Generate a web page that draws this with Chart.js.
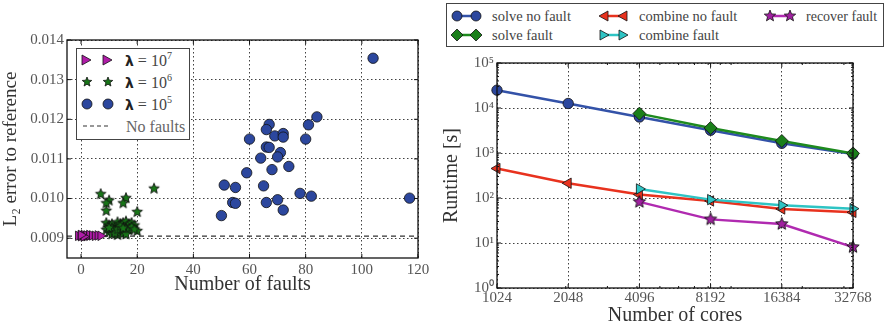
<!DOCTYPE html>
<html><head><meta charset="utf-8">
<script src="https://cdn.jsdelivr.net/npm/chart.js@4"></script>
<style>
html,body{margin:0;padding:0;background:#fff;}
body{width:885px;height:332px;position:relative;overflow:hidden;font-family:"Liberation Serif","DejaVu Serif",serif;}
.cw{position:absolute;top:0;height:332px;}
.leg{position:absolute;border:1.5px solid #444;background:#fff;box-sizing:border-box;}
.item{position:absolute;white-space:nowrap;color:#444;font-family:"Liberation Serif","DejaVu Serif",serif;font-size:14px;line-height:14px;}
.item svg{position:absolute;overflow:visible;}
.lam{font-family:"DejaVu Sans",sans-serif;font-weight:bold;color:#222;font-size:14px;}
sup{font-size:10px;line-height:0;position:relative;top:-1px;}
</style></head>
<body>
<div class="cw" style="left:0;width:440px;"><canvas id="c1" width="440" height="332"></canvas></div>
<div class="cw" style="left:440px;width:445px;"><canvas id="c2" width="445" height="332"></canvas></div>

<div class="leg" style="left:76px;top:48px;width:114px;height:92px;">
  <div class="item" style="left:0;top:0;width:110px;height:88px;">
    <svg width="110" height="88">
      <polygon points="5,6 14,11 5,16" fill="#b01ca8" stroke="#111" stroke-width="0.8"/>
      <polygon points="26,6 35,11 26,16" fill="#b01ca8" stroke="#111" stroke-width="0.8"/>
      <polygon id="s1" points="" fill="#187518" stroke="#111" stroke-width="0.8"/>
      <polygon id="s2" points="" fill="#187518" stroke="#111" stroke-width="0.8"/>
      <circle cx="10" cy="55" r="5" fill="#2c479e" stroke="#111" stroke-width="0.8"/>
      <circle cx="31" cy="55" r="5" fill="#2c479e" stroke="#111" stroke-width="0.8"/>
      <line x1="6" y1="77" x2="33" y2="77" stroke="#333" stroke-width="1.2" stroke-dasharray="4,3"/>
    </svg>
  </div>
  <div class="item" style="left:48px;top:4px;font-size:16px;line-height:16px;"><span class="lam">λ</span> = 10<sup>7</sup></div>
  <div class="item" style="left:48px;top:26px;font-size:16px;line-height:16px;"><span class="lam">λ</span> = 10<sup>6</sup></div>
  <div class="item" style="left:48px;top:48px;font-size:16px;line-height:16px;"><span class="lam">λ</span> = 10<sup>5</sup></div>
  <div class="item" style="left:49px;top:70px;color:#666;font-size:16px;line-height:16px;">No faults</div>
</div>

<div class="leg" style="left:446px;top:3px;width:438px;height:44px;">
  <svg width="438" height="44" style="position:absolute;left:0;top:0;overflow:visible">
    <g stroke="#111" stroke-width="0.8">
      <line x1="10" y1="12" x2="29" y2="12" stroke="#3352a8" stroke-width="2.5"/>
      <circle cx="10" cy="12" r="5" fill="#2c479e"/><circle cx="29" cy="12" r="5" fill="#2c479e"/>
      <line x1="10" y1="31" x2="29" y2="31" stroke="#1e8a1e" stroke-width="2.5"/>
      <polygon points="10,25 16,31 10,37 4,31" fill="#1a7f1a"/><polygon points="29,25 35,31 29,37 23,31" fill="#1a7f1a"/>
      <line x1="157" y1="12" x2="176" y2="12" stroke="#e8321e" stroke-width="2.5"/>
      <polygon points="152,12 161,7 161,17" fill="#e8321e"/><polygon points="171,12 180,7 180,17" fill="#e8321e"/>
      <line x1="157" y1="31" x2="176" y2="31" stroke="#2ec4c4" stroke-width="2.5"/>
      <polygon points="162,31 153,26 153,36" fill="#2ec4c4"/><polygon points="181,31 172,26 172,36" fill="#2ec4c4"/>
      <line x1="323" y1="12" x2="343" y2="12" stroke="#b02ab0" stroke-width="2.5"/>
      <polygon id="s3" points="" fill="#a020a0"/><polygon id="s4" points="" fill="#a020a0"/>
    </g>
  </svg>
  <div class="item" style="left:45px;top:5px;font-size:14.5px;line-height:15px;">solve no fault</div>
  <div class="item" style="left:45px;top:24px;font-size:14.5px;line-height:15px;">solve fault</div>
  <div class="item" style="left:192px;top:5px;font-size:14.5px;line-height:15px;">combine no fault</div>
  <div class="item" style="left:192px;top:24px;font-size:14.5px;line-height:15px;">combine fault</div>
  <div class="item" style="left:359px;top:5px;font-size:14px;line-height:15px;">recover fault</div>
</div>

<script>
// ---------- Left panel data ----------
const lam5Faults = [104,117,84,81,80,67,66,60,69,72,72,66,67,71,70,64,74,68,59,65,51,55,78,82,70,54,55,66,72,50];
const lam5Error  = [0.01354,0.01001,0.01206,0.01186,0.01150,0.01187,0.01174,0.01150,0.01158,0.01164,0.01155,0.01130,0.01129,0.01116,0.01105,0.01102,0.01081,0.01073,0.01065,0.01032,0.01034,0.01028,0.01013,0.01006,0.00997,0.00990,0.00988,0.00990,0.00971,0.00957];
const lam6Faults = [7,26,10,9,9,16,15,20,9,10,11,12,13,14,15,16,17,18,19,9,10,11,12,13,14,15,16,17,18,20,11,12,13,14,16,10,19,15];
const lam6Error  = [0.01011,0.01025,0.00995,0.00988,0.00969,0.01001,0.00988,0.00966,0.00938,0.00932,0.00935,0.00928,0.00940,0.00936,0.00938,0.00942,0.00935,0.00938,0.00932,0.00921,0.00915,0.00910,0.00918,0.00908,0.00915,0.00912,0.00925,0.00920,0.00928,0.00918,0.00925,0.00912,0.00922,0.00930,0.00910,0.00926,0.00922,0.00925];
const lam7Faults = [-1,0,0,1,1,2,2,3,3,4,5,6,7,1,0];
const lam7Error  = [0.00906,0.00907,0.00905,0.00906,0.00908,0.00905,0.00907,0.00906,0.00908,0.00907,0.00906,0.00907,0.00906,0.00904,0.00908];
const noFaultX = [-5,120];
const noFaultError = [0.00905,0.00905];
const leftXTicks = [0,20,40,60,80,100,120];
const leftYTicks = [0.009,0.010,0.011,0.012,0.013,0.014];

// ---------- Right panel data ----------
const cores = [1024,2048,4096,8192,16384,32768];
const solveNoFault   = [24900,12600,6300,3200,1640,946];
const solveFault     = [null,null,7500,3600,1850,980];
const combineNoFault = [453,213,119,86,57,48];
const combineFault   = [null,null,159,92,69,58];
const recoverFault   = [null,null,82,33.5,26.4,8.1];
const rightYTicks = [1,10,100,1000,10000,100000];

// ---------- helpers ----------
function starPts(cx,cy,R,r){const p=[];for(let i=0;i<10;i++){const a=-Math.PI/2+i*Math.PI/5;const rr=i%2?r:R;p.push((cx+rr*Math.cos(a)).toFixed(2)+','+(cy+rr*Math.sin(a)).toFixed(2));}return p.join(' ');}
document.getElementById('s1').setAttribute('points',starPts(10,33,5,2.2));
document.getElementById('s2').setAttribute('points',starPts(31,33,5,2.2));
document.getElementById('s3').setAttribute('points',starPts(323,12,6,2.6));
document.getElementById('s4').setAttribute('points',starPts(343,12,6,2.6));

function starImg(R,fill){
  const s=Math.ceil(2*R+3);const c=document.createElement('canvas');c.width=s;c.height=s;
  const g=c.getContext('2d');g.beginPath();
  for(let i=0;i<10;i++){const a=-Math.PI/2+i*Math.PI/5;const rr=i%2?R*0.44:R;const x=s/2+rr*Math.cos(a),y=s/2+rr*Math.sin(a);i?g.lineTo(x,y):g.moveTo(x,y);}
  g.closePath();g.fillStyle=fill;g.fill();g.lineWidth=0.9;g.strokeStyle='#111';g.stroke();return c;
}
const zip=(xs,ys)=>xs.map((x,i)=>({x:x,y:ys[i]})).filter(p=>p.y!=null);

const FONT='Liberation Serif';
const gridCfg={color:'rgba(0,0,0,0.75)',lineWidth:1,tickLength:0,drawTicks:false};
const borderCfg={display:false,dash:[1.5,2.5]};

const frame={
  id:'frame',
  afterDatasetsDraw(chart,args,opts){
    const a=chart.chartArea,g=chart.ctx;g.save();
    g.strokeStyle='#111';g.lineWidth=1.3;g.strokeRect(a.left,a.top,a.right-a.left,a.bottom-a.top);
    const xs=chart.scales.x,ys=chart.scales.y;
    g.lineWidth=1;
    xs.ticks.forEach(t=>{const px=xs.getPixelForValue(t.value);g.beginPath();g.moveTo(px,a.bottom);g.lineTo(px,a.bottom-4);g.moveTo(px,a.top);g.lineTo(px,a.top+4);g.stroke();});
    ys.ticks.forEach(t=>{const py=ys.getPixelForValue(t.value);g.beginPath();g.moveTo(a.left,py);g.lineTo(a.left+4,py);g.moveTo(a.right,py);g.lineTo(a.right-4,py);g.stroke();});
    if(opts.logMinor){
      for(let d=1;d<100000;d*=10){for(let k=2;k<10;k++){const py=ys.getPixelForValue(d*k);g.beginPath();g.moveTo(a.left,py);g.lineTo(a.left+2,py);g.moveTo(a.right,py);g.lineTo(a.right-2,py);g.stroke();}}
      for(let d=1000;d<=10000;d*=10){for(let k=1;k<10;k++){const v=d*k;if(v<=1024||v>=32768)continue;const px=xs.getPixelForValue(v);g.beginPath();g.moveTo(px,a.bottom);g.lineTo(px,a.bottom-2);g.moveTo(px,a.top);g.lineTo(px,a.top+2);g.stroke();}}
    }
    g.restore();
  }
};

// ---------- Left chart ----------
new Chart(document.getElementById('c1'),{
  type:'scatter',
  data:{datasets:[
    {label:'No faults',type:'line',data:zip(noFaultX,noFaultError),borderColor:'#333',borderWidth:1.2,borderDash:[5,4],pointRadius:0,order:4},
    {label:'λ = 10^5',data:zip(lam5Faults,lam5Error),pointStyle:'circle',pointRadius:5.2,backgroundColor:'#2c479e',borderColor:'#111',borderWidth:0.8,order:3,clip:false},
    {label:'λ = 10^6',data:zip(lam6Faults,lam6Error),pointStyle:starImg(5.5,'#187518'),order:2,clip:false},
    {label:'λ = 10^7',data:zip(lam7Faults,lam7Error),pointStyle:'triangle',rotation:90,pointRadius:5.5,backgroundColor:'#b01ca8',borderColor:'#111',borderWidth:0.8,order:1,clip:false}
  ]},
  options:{
    responsive:false,animation:false,
    layout:{padding:{left:0,top:40,right:22,bottom:35}},
    plugins:{legend:{display:false},tooltip:{enabled:false},frame:{}},
    scales:{
      x:{type:'linear',min:-5,max:120,
        afterBuildTicks:s=>{s.ticks=leftXTicks.map(v=>({value:v}));},
        afterFit:s=>{s.height=39;},
        grid:{...gridCfg},border:{...borderCfg},
        ticks:{font:{family:FONT,size:15},color:'#555',padding:3,maxRotation:0,callback:v=>String(v)},
        title:{display:true,text:'Number of faults',font:{family:FONT,size:20},color:'#333',padding:{top:0,bottom:0}}
      },
      y:{type:'linear',min:0.0085,max:0.014,
        afterBuildTicks:s=>{s.ticks=leftYTicks.map(v=>({value:v}));},
        afterFit:s=>{s.width=67;},
        grid:{...gridCfg},border:{...borderCfg},
        ticks:{font:{family:FONT,size:15},color:'#555',padding:3,callback:v=>v.toFixed(3)},
        title:{display:true,text:'L₂ error to reference',font:{family:FONT,size:19},color:'#333',padding:{top:0,bottom:2}}
      }
    }
  },
  plugins:[frame]
});

// ---------- Right chart ----------
const sup={0:'⁰',1:'¹',2:'²',3:'³',4:'⁴',5:'⁵'};
new Chart(document.getElementById('c2'),{
  type:'line',
  data:{datasets:[
    {label:'solve no fault',data:zip(cores,solveNoFault),borderColor:'#3352a8',backgroundColor:'#2c479e',pointStyle:'circle',pointRadius:5.2,order:5},
    {label:'solve fault',data:zip(cores,solveFault),borderColor:'#1e8a1e',backgroundColor:'#1a7f1a',pointStyle:'rectRot',pointRadius:6.5,order:4},
    {label:'combine no fault',data:zip(cores,combineNoFault),borderColor:'#e8321e',backgroundColor:'#e8321e',pointStyle:'triangle',rotation:-90,pointRadius:6,order:3},
    {label:'combine fault',data:zip(cores,combineFault),borderColor:'#2ec4c4',backgroundColor:'#2ec4c4',pointStyle:'triangle',rotation:90,pointRadius:6,order:2},
    {label:'recover fault',data:zip(cores,recoverFault),borderColor:'#b02ab0',backgroundColor:'#a020a0',pointStyle:starImg(6.5,'#a020a0'),order:1}
  ].map(d=>Object.assign({borderWidth:2.5,pointBorderColor:'#111',pointBorderWidth:0.8,clip:false,tension:0},d))},
  options:{
    responsive:false,animation:false,
    layout:{padding:{left:0,top:63,right:32,bottom:0}},
    plugins:{legend:{display:false},tooltip:{enabled:false},frame:{logMinor:true}},
    scales:{
      x:{type:'logarithmic',min:1024,max:32768,
        afterBuildTicks:s=>{s.ticks=cores.map(v=>({value:v}));},
        afterFit:s=>{s.height=44;},
        grid:{...gridCfg},border:{...borderCfg},
        ticks:{font:{family:FONT,size:15},color:'#555',padding:1,maxRotation:0,autoSkip:false,callback:v=>String(v)},
        title:{display:true,text:'Number of cores',font:{family:FONT,size:20},color:'#333',padding:{top:0}}
      },
      y:{type:'logarithmic',min:1,max:100000,
        afterBuildTicks:s=>{s.ticks=rightYTicks.map(v=>({value:v}));},
        afterFit:s=>{s.width=57;},
        grid:{...gridCfg},border:{...borderCfg},
        ticks:{font:{family:FONT,size:15},color:'#555',padding:3,autoSkip:false,callback:v=>'10'+sup[Math.round(Math.log10(v))]},
        title:{display:true,text:'Runtime [s]',font:{family:FONT,size:20},color:'#333',padding:{top:0,bottom:2}}
      }
    }
  },
  plugins:[frame]
});
</script>
</body></html>
